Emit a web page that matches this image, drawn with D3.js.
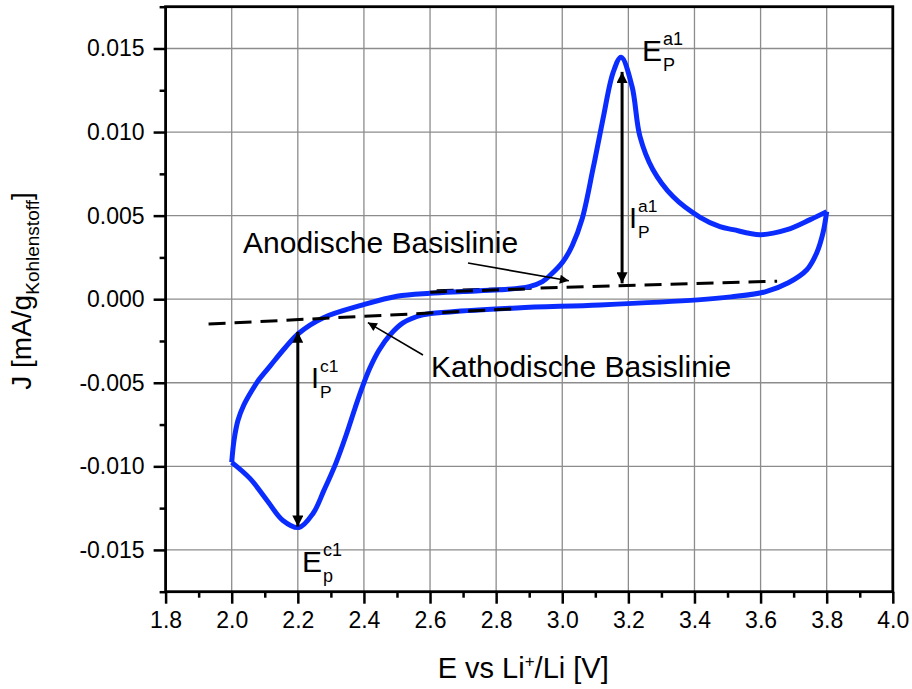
<!DOCTYPE html>
<html><head><meta charset="utf-8">
<script src="https://cdn.jsdelivr.net/npm/d3@7"></script>
<style>
body{margin:0;background:#fff;}
svg text{font-family:"Liberation Sans",Arial,sans-serif;fill:#000;}
</style></head>
<body><svg id="c" width="912" height="689"></svg>
<script>
// ---- data ----
const cvPotential = [3.800,3.789,3.770,3.740,3.684,3.614,3.510,3.410,3.114,2.863,2.660,2.578,2.518,2.479,2.446,2.418,2.394,2.373,2.346,2.315,2.279,2.246,2.203,2.155,2.107,2.055,2.000,
  2.007,2.019,2.036,2.057,2.082,2.116,2.161,2.204,2.276,2.397,2.500,2.600,2.700,2.810,2.900,2.940,2.965,3.002,3.030,3.060,3.093,3.123,3.154,3.178,3.211,3.235,3.274,3.335,3.417,3.477,3.517,3.598,3.680,3.750,3.800];
const cvCurrent = [0.00524,0.00398,0.00278,0.00176,0.00098,0.00044,0.00014,-0.00004,-0.00034,-0.00052,-0.00076,-0.00094,-0.00142,-0.00214,-0.00304,-0.00412,-0.00532,-0.00652,-0.00814,-0.00982,-0.01144,-0.01282,-0.01366,-0.01324,-0.01204,-0.01072,-0.00976,
  -0.00844,-0.00724,-0.00636,-0.00560,-0.00482,-0.00400,-0.00292,-0.00202,-0.00112,-0.00034,0.00018,0.00036,0.00046,0.00056,0.00075,0.00105,0.00146,0.00224,0.00320,0.00480,0.00780,0.01076,0.01357,0.01448,0.01274,0.00974,0.00776,0.00614,0.00490,0.00434,0.00416,0.00386,0.00416,0.00476,0.00524];
const anodicBaseX = [2.62, 3.65];
const anodicBaseY = [0.00050, 0.00108];
const cathodicBaseX = [1.93, 2.87];
const cathodicBaseY = [-0.00149, -0.00056];
const peakAnodic = {x: 3.181, top: 0.01360, bottom: 0.00095};
const peakCathodic = {x: 2.200, top: -0.00195, bottom: -0.01360};
const xTicks = [1.8,2.0,2.2,2.4,2.6,2.8,3.0,3.2,3.4,3.6,3.8,4.0];
const xTickLabels = ["1.8","2.0","2.2","2.4","2.6","2.8","3.0","3.2","3.4","3.6","3.8","4.0"];
const yTicks = [-0.015,-0.010,-0.005,0.000,0.005,0.010,0.015];
const yTickLabels = ["-0.015","-0.010","-0.005","0.000","0.005","0.010","0.015"];
const xMinor = [1.9,2.1,2.3,2.5,2.7,2.9,3.1,3.3,3.5,3.7,3.9];
const yMinor = [-0.0175,-0.0125,-0.0075,-0.0025,0.0025,0.0075,0.0125,0.0175];

// ---- layout ----
const W=912,H=689, m={l:165.6,r:19.2,t:6.7,b:97.3};
const x=d3.scaleLinear().domain([1.8,4.0]).range([m.l,W-m.r]);
const y=d3.scaleLinear().domain([-0.0175,0.0175]).range([H-m.b,m.t]);
const svg=d3.select("#c");

const defs=svg.append("defs");
defs.append("marker").attr("id","ah").attr("viewBox","0 0 10 10").attr("refX",10).attr("refY",5)
  .attr("markerWidth",16).attr("markerHeight",11).attr("markerUnits","userSpaceOnUse").attr("orient","auto-start-reverse")
  .append("path").attr("d","M0,0L10,5L0,10z").attr("fill","#000");
defs.append("marker").attr("id","ahs").attr("viewBox","0 0 10 10").attr("refX",10).attr("refY",5)
  .attr("markerWidth",15).attr("markerHeight",9).attr("markerUnits","userSpaceOnUse").attr("orient","auto")
  .append("path").attr("d","M0,0L10,5L0,10z").attr("fill","#000");

// grid
const g=svg.append("g");
g.selectAll(".gx").data(xTicks.slice(1,-1)).join("line").attr("x1",d=>x(d)).attr("x2",d=>x(d))
  .attr("y1",y(-0.0175)).attr("y2",y(0.0175)).attr("stroke","#8c8c8c").attr("stroke-width",1.3);
g.selectAll(".gy").data(yTicks).join("line").attr("y1",d=>y(d)).attr("y2",d=>y(d))
  .attr("x1",x(1.8)).attr("x2",x(4.0)).attr("stroke","#8c8c8c").attr("stroke-width",1.3);

// axes
const xa=svg.append("g").attr("transform",`translate(0,${y(-0.0175)})`)
  .call(d3.axisBottom(x).tickValues(xTicks).tickFormat((d,i)=>xTickLabels[i]).tickSize(12).tickPadding(8));
const xm=svg.append("g").attr("transform",`translate(0,${y(-0.0175)})`)
  .call(d3.axisBottom(x).tickValues(xMinor).tickFormat("").tickSize(6));
const ya=svg.append("g").attr("transform",`translate(${x(1.8)},0)`)
  .call(d3.axisLeft(y).tickValues(yTicks).tickFormat((d,i)=>yTickLabels[i]).tickSize(12).tickPadding(9));
const ym=svg.append("g").attr("transform",`translate(${x(1.8)},0)`)
  .call(d3.axisLeft(y).tickValues(yMinor).tickFormat("").tickSize(6));
[xa,xm,ya,ym].forEach(a=>{a.selectAll(".domain").remove();a.selectAll("line").attr("stroke","#000").attr("stroke-width",2.5);});
xa.selectAll("text").attr("font-size",23);
ya.selectAll("text").attr("font-size",23);

// frame
svg.append("rect").attr("x",x(1.8)).attr("y",y(0.0175)).attr("width",x(4.0)-x(1.8)).attr("height",y(-0.0175)-y(0.0175))
  .attr("fill","none").attr("stroke","#000").attr("stroke-width",2.8);

// baselines
const line=d3.line().x(d=>x(d[0])).y(d=>y(d[1]));
svg.append("path").attr("d",line(d3.zip(anodicBaseX,anodicBaseY))).attr("stroke","#000").attr("stroke-width",3)
  .attr("stroke-dasharray","17,9").attr("fill","none");
// CV curve
const curve=d3.line().x(d=>x(d[0])).y(d=>y(d[1])).curve(d3.curveCatmullRom.alpha(0.5));
const pts=d3.zip(cvPotential,cvCurrent);
const lowerEnd=cvPotential.indexOf(2.000);
svg.append("path").attr("d",curve(pts.slice(0,lowerEnd+1))).attr("stroke","#0a2cff").attr("stroke-width",5).attr("fill","none").attr("stroke-linejoin","round");
svg.append("path").attr("d",curve(pts.slice(lowerEnd))).attr("stroke","#0a2cff").attr("stroke-width",5).attr("fill","none").attr("stroke-linejoin","round");
svg.append("path").attr("d",line(d3.zip(cathodicBaseX,cathodicBaseY))).attr("stroke","#000").attr("stroke-width",3)
  .attr("stroke-dasharray","17,9").attr("fill","none");
svg.append("path").attr("d",line([[2.6,0.00042],[2.9,0.00062]])).attr("stroke","#000").attr("stroke-width",3)
  .attr("stroke-dasharray","17,9").attr("fill","none");

// double arrows
[peakAnodic,peakCathodic].forEach(p=>{
  svg.append("line").attr("x1",x(p.x)).attr("x2",x(p.x)).attr("y1",y(p.top)).attr("y2",y(p.bottom))
    .attr("stroke","#000").attr("stroke-width",3).attr("marker-start","url(#ah)").attr("marker-end","url(#ah)");
});

// annotation arrows
svg.append("line").attr("x1",468).attr("y1",263).attr("x2",x(3.02)).attr("y2",y(0.0011))
  .attr("stroke","#000").attr("stroke-width",1.6).attr("marker-end","url(#ahs)");
svg.append("line").attr("x1",423).attr("y1",355).attr("x2",x(2.412)).attr("y2",y(-0.0014))
  .attr("stroke","#000").attr("stroke-width",1.6).attr("marker-end","url(#ahs)");

svg.append("text").attr("x",243).attr("y",253).attr("font-size",30).text("Anodische Basislinie");
svg.append("text").attr("x",431).attr("y",377).attr("font-size",30).text("Kathodische Basislinie");

function sym(xp,yp,main,sup,sub,fs){
  const t=svg.append("g");
  const m1=t.append("text").attr("x",xp).attr("y",yp).attr("font-size",fs).text(main);
  const w=m1.node().getComputedTextLength();
  t.append("text").attr("x",xp+w+1).attr("y",yp-16).attr("font-size",fs*0.6).text(sup);
  t.append("text").attr("x",xp+w+1).attr("y",yp+10).attr("font-size",fs*0.6).text(sub);
}
sym(642,61,"E","a1","P",30);
sym(629,228,"I","a1","P",29);
sym(311,388,"I","c1","P",29);
sym(302,572,"E","c1","p",30);

// axis titles
const xt=svg.append("text").attr("x",(x(1.8)+x(4.0))/2-6).attr("y",678).attr("text-anchor","middle").attr("font-size",29);
xt.append("tspan").text("E vs Li");
xt.append("tspan").attr("dy",-11).attr("font-size",17).text("+");
xt.append("tspan").attr("dy",11).text("/Li [V]");
const yt=svg.append("text").attr("transform","translate(31,291) rotate(-90)").attr("text-anchor","middle").attr("font-size",28);
yt.append("tspan").text("J [mA/g");
yt.append("tspan").attr("dy",8).attr("font-size",19).text("Kohlenstoff");
yt.append("tspan").attr("dy",-8).text("]");
</script></body></html>
